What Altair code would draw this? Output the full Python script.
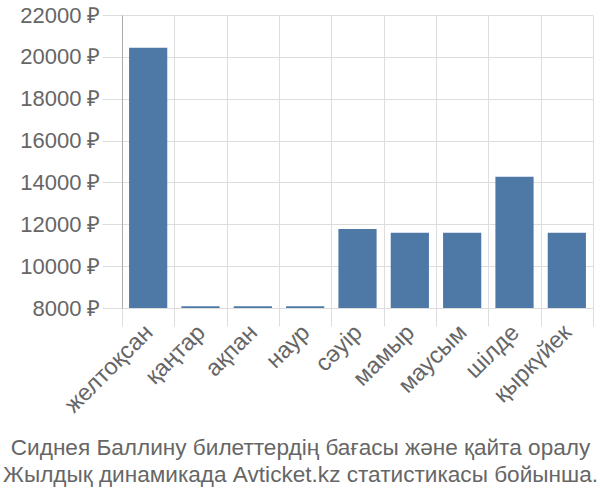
import altair as alt
import pandas as pd

months = ["желтоқсан", "қаңтар", "ақпан", "наур", "сәуір", "мамыр", "маусым", "шілде", "қыркүйек"]
prices = [20440, 8080, 8080, 8080, 11775, 11600, 11600, 14275, 11600]
y_ticks = [8000, 10000, 12000, 14000, 16000, 18000, 20000, 22000]
title_lines = [
    "Сиднея Баллину билеттердің бағасы және қайта оралу",
    "Жылдық динамикада Avticket.kz статистикасы бойынша.",
]

df = pd.DataFrame({"month": months, "price": prices})

FONT = "Liberation Sans"
TXT = "#666666"

bars = alt.Chart(df).mark_bar(
    color="#4e79a7", width=alt.RelativeBandSize(0.73), clip=True
).encode(
    x=alt.X(
        "month:N",
        sort=months,
        scale=alt.Scale(paddingInner=0, paddingOuter=0),
        axis=alt.Axis(
            title=None,
            labelAngle=-45,
            labelFontSize=23.5,
            labelColor=TXT,
            labelFont=FONT,
            tickBand="extent",
            tickSize=18,
            tickColor="#dddddd",
            domainColor="#dddddd",
            gridColor="#dddddd",
            grid=True,
            labelPadding=-6,
            labelOffset=-8,
        ),
    ),
    y=alt.Y(
        "price:Q",
        scale=alt.Scale(domain=[8000, 22000], zero=False, nice=False),
        axis=alt.Axis(
            title=None,
            values=y_ticks,
            labelExpr="datum.value + ' ₽'",
            labelFontSize=22,
            labelColor=TXT,
            labelFont=FONT,
            tickSize=20,
            tickColor="#dddddd",
            domainColor="#aaaaaa",
            gridColor="#dddddd",
            labelPadding=2,
        ),
    ),
)

chart = bars.properties(
    width=471,
    height=293,
    autosize=alt.AutoSizeParams(type="none"),
    padding={"left": 122, "top": 15, "right": 7, "bottom": 192},
    title=alt.TitleParams(
        text=title_lines,
        orient="bottom",
        anchor="middle",
        frame="group",
        dx=-57,
        fontSize=22.6,
        font=FONT,
        color=TXT,
        fontWeight="normal",
        lineHeight=27,
        offset=20,
    ),
).configure_view(stroke=None)

chart.save("out.html", embed_options={"renderer": "svg", "actions": False})
